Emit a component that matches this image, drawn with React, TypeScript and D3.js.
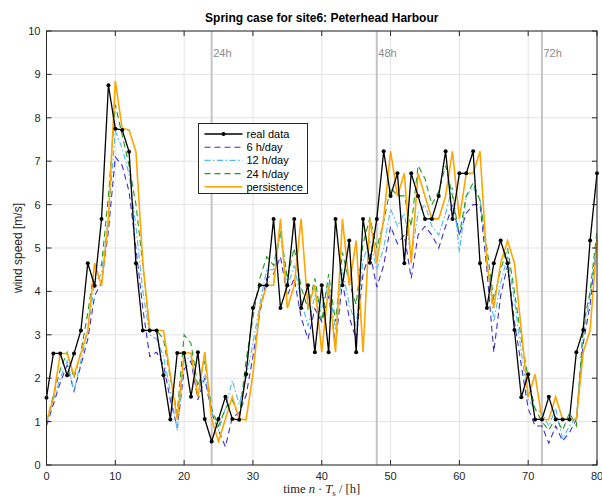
import React from "react";
import * as d3 from "d3";

// time steps 0..80 (hours)
const realData = [
  1.55, 2.57, 2.57, 2.07, 2.57, 3.1, 4.65, 4.13, 5.67, 8.75,
  7.75, 7.72, 7.22, 4.65, 3.1, 3.1, 3.1, 2.07, 1.05, 2.58,
  2.58, 1.57, 2.6, 1.06, 0.54, 1.06, 1.57, 1.06, 1.04, 2.09,
  3.62, 4.14, 4.14, 5.67, 3.62, 4.14, 5.67, 3.62, 4.14, 2.6,
  4.14, 2.6, 5.67, 4.14, 5.17, 2.6, 5.67, 4.66, 5.67, 7.23,
  6.2, 6.72, 4.65, 6.72, 6.2, 5.67, 5.67, 6.2, 7.23, 5.67,
  6.72, 6.72, 7.23, 4.65, 3.62, 4.65, 5.17, 4.65, 3.11, 1.56,
  2.09, 1.05, 1.05, 1.57, 1.05, 1.05, 1.05, 2.6, 3.11, 5.17,
  6.72,
];
const h6 = [
  0.9, 1.4, 1.9, 2.3, 1.7, 2.3, 2.9, 3.9, 4.2, 5.4,
  7.1, 6.9, 6.3, 5.0, 3.6, 2.5, 2.6, 2.3, 1.5, 0.85,
  2.2, 2.4, 1.5, 2.0, 1.2, 0.8, 0.42, 1.1, 1.2, 1.6,
  2.5, 3.5, 4.3, 4.4, 4.8, 3.9, 4.3, 3.4, 2.9, 3.6,
  3.3, 3.9, 2.8, 4.2, 3.4, 2.9, 4.4, 4.9, 4.1, 4.6,
  5.5, 5.1, 5.3, 4.3, 5.3, 5.5, 5.3, 5.0, 5.5, 6.0,
  5.3, 5.8, 6.0, 6.0, 4.5, 2.6, 3.9, 4.6, 3.3, 2.3,
  1.3, 0.9, 0.9, 0.5, 0.9, 0.55, 0.75, 1.05, 2.8, 3.7,
  5.2,
];
const h12 = [
  0.95, 1.5, 2.0, 2.4, 1.7, 2.4, 3.1, 4.2, 4.4, 5.7,
  7.7, 7.3, 6.7, 5.5, 4.0, 3.0, 2.9, 2.5, 1.7, 0.8,
  2.4, 2.5, 1.6, 2.1, 1.2, 0.8, 1.3, 1.95, 1.4, 2.0,
  2.8, 3.7, 4.5, 4.5, 5.3, 4.1, 4.6, 3.8, 3.2, 3.9,
  3.6, 4.2, 3.1, 4.5, 3.7, 3.2, 4.7, 5.2, 4.5, 5.0,
  5.9, 5.5, 5.8, 4.8, 5.8, 6.0, 5.5, 5.3, 5.8, 6.4,
  4.9, 6.2, 6.4, 6.1, 4.8, 3.3, 4.2, 4.8, 3.8, 2.6,
  1.5, 1.3, 1.2, 0.9, 1.3, 0.6, 0.9, 1.1, 3.0, 3.9,
  5.2,
];
const h24 = [
  1.0, 1.6, 2.2, 2.6, 2.0, 2.6, 3.5, 4.6, 4.6, 6.2,
  8.3, 7.6, 6.9, 6.0, 4.6, 3.1, 3.1, 2.9, 2.0, 1.2,
  3.0, 2.8, 1.8, 2.4, 1.3, 0.9, 1.3, 1.5, 1.1, 2.4,
  3.4, 4.3, 4.8, 4.6, 5.4, 4.3, 5.0, 4.1, 3.6, 4.3,
  3.3, 4.4, 3.3, 4.9, 4.2, 3.7, 5.1, 5.7, 5.0, 5.6,
  6.4, 6.2, 6.2, 5.5, 6.9, 6.6, 6.0, 6.3, 6.9, 6.2,
  5.3, 6.2, 6.5, 6.1, 5.0, 3.8, 4.5, 5.0, 4.0, 2.9,
  2.0, 1.3, 1.0, 0.8, 1.1, 0.8, 1.2, 0.9, 3.2, 4.0,
  5.4,
];
const persistence = [
  1.0, 1.55, 2.57, 2.57, 2.07, 2.57, 3.1, 4.65, 4.13, 5.67,
  8.85, 7.75, 7.72, 7.22, 4.65, 3.1, 3.1, 3.1, 2.07, 1.05,
  2.58, 2.58, 1.57, 2.6, 1.06, 0.54, 1.06, 1.57, 1.06, 1.04,
  2.09, 3.62, 4.14, 4.14, 5.67, 3.62, 4.14, 5.67, 3.62, 4.14,
  2.6, 4.14, 2.6, 5.67, 4.14, 5.17, 2.6, 5.67, 4.66, 5.67,
  7.23, 6.2, 6.72, 4.65, 6.72, 6.2, 5.67, 5.67, 6.2, 7.23,
  5.67, 6.72, 6.72, 7.23, 4.65, 3.62, 4.65, 5.17, 4.65, 3.11,
  1.56, 2.09, 1.05, 1.05, 1.57, 1.05, 1.05, 1.05, 2.6, 3.11,
  5.17,
];
const dayMarks = [24, 48, 72];
const xTicks = [0, 10, 20, 30, 40, 50, 60, 70, 80];
const yTicks = [0, 1, 2, 3, 4, 5, 6, 7, 8, 9, 10];

const series = [
  { name: "6 h/day", values: h6, color: "#3d2fd0", dash: "6,4" },
  { name: "12 h/day", values: h12, color: "#4db8f2", dash: "6,2.5,1.5,2.5" },
  { name: "24 h/day", values: h24, color: "#1f9a1f", dash: "6,4" },
  { name: "persistence", values: persistence, color: "#ffa500", dash: "" },
];

const W = 602;
const H = 497;
const m = { left: 46.5, right: 5, top: 31, bottom: 32 };
const font = "'Liberation Sans', Arial, Helvetica, sans-serif";

export default function App() {
  const x = d3.scaleLinear().domain([0, 80]).range([m.left, W - m.right]);
  const y = d3.scaleLinear().domain([0, 10]).range([H - m.bottom, m.top]);
  const line = d3
    .line<number>()
    .x((_, i) => x(i))
    .y((d) => y(d));

  const x0 = x(0), x1 = x(80), y0 = y(0), y1 = y(10);

  const legend = [
    { name: "real data", color: "#000", dash: "", marker: true },
    ...series.map((s) => ({ ...s, marker: false })),
  ];
  const lx = 198.5, ly = 123.5;

  return (
    <svg width={W} height={H} style={{ position: "absolute", left: 0, top: 0, background: "#fff" }} fontFamily={font}>
      {/* grid */}
      {xTicks.map((t) => (
        <line key={"gx" + t} x1={x(t)} x2={x(t)} y1={y0} y2={y1} stroke="#e3e3e3" strokeWidth={1} />
      ))}
      {yTicks.map((t) => (
        <line key={"gy" + t} x1={x0} x2={x1} y1={y(t)} y2={y(t)} stroke="#e3e3e3" strokeWidth={1} />
      ))}
      {/* day markers */}
      {dayMarks.map((d) => (
        <g key={"d" + d}>
          <line x1={x(d)} x2={x(d)} y1={y0} y2={y1} stroke="#c4c4c4" strokeWidth={2} />
          <text x={x(d) + 1.5} y={57} fontSize={11} fill="#8a8a8a">{d}h</text>
        </g>
      ))}
      {/* forecasts */}
      {series.map((s) => (
        <path key={s.name} d={line(s.values) ?? ""} fill="none" stroke={s.color}
          strokeWidth={s.dash ? 1.1 : 1.6} strokeDasharray={s.dash || undefined} />
      ))}
      {/* real data */}
      <path d={line(realData) ?? ""} fill="none" stroke="#000" strokeWidth={1.3} />
      {realData.map((v, i) => (
        <circle key={"p" + i} cx={x(i)} cy={y(v)} r={2} fill="#000" />
      ))}
      {/* axes box */}
      <rect x={x0} y={y1} width={x1 - x0} height={y0 - y1} fill="none" stroke="#262626" strokeWidth={1} />
      {xTicks.map((t) => (
        <g key={"tx" + t}>
          <line x1={x(t)} x2={x(t)} y1={y0} y2={y0 - 5} stroke="#262626" />
          <line x1={x(t)} x2={x(t)} y1={y1} y2={y1 + 5} stroke="#262626" />
          <text x={x(t)} y={y0 + 15} fontSize={11} fill="#262626" textAnchor="middle">{t}</text>
        </g>
      ))}
      {yTicks.map((t) => (
        <g key={"ty" + t}>
          <line x1={x0} x2={x0 + 5} y1={y(t)} y2={y(t)} stroke="#262626" />
          <line x1={x1} x2={x1 - 5} y1={y(t)} y2={y(t)} stroke="#262626" />
          <text x={x0 - 6} y={y(t) + 4} fontSize={11} fill="#262626" textAnchor="end">{t}</text>
        </g>
      ))}
      {/* title and labels */}
      <text x={(x0 + x1) / 2} y={22} fontSize={12} fontWeight="bold" textAnchor="middle" fill="#000">
        Spring case for site6: Peterhead Harbour
      </text>
      <text transform={`translate(22,${(y0 + y1) / 2}) rotate(-90)`} fontSize={12} textAnchor="middle" fill="#262626">
        wind speed [m/s]
      </text>
      <text x={(x0 + x1) / 2} y={493} fontSize={12.5} textAnchor="middle" fill="#262626"
        fontFamily="'Liberation Serif', 'DejaVu Serif', serif">
        time <tspan fontStyle="italic">n</tspan> · <tspan fontStyle="italic">T</tspan>
        <tspan fontSize={9} dy={3}>s</tspan><tspan dy={-3}> / [h]</tspan>
      </text>
      {/* legend */}
      <rect x={lx} y={ly} width={109} height={70} fill="#fff" stroke="#262626" strokeWidth={1} />
      {legend.map((l, i) => {
        const yy = ly + 10.5 + i * 13.2;
        return (
          <g key={"l" + l.name}>
            <line x1={lx + 6} x2={lx + 44} y1={yy} y2={yy} stroke={l.color}
              strokeWidth={l.dash ? 1.1 : l.marker ? 1.3 : 1.6} strokeDasharray={l.dash || undefined} />
            {l.marker && <circle cx={lx + 25} cy={yy} r={2} fill="#000" />}
            <text x={lx + 48} y={yy + 4} fontSize={11} fill="#000">{l.name}</text>
          </g>
        );
      })}
    </svg>
  );
}
